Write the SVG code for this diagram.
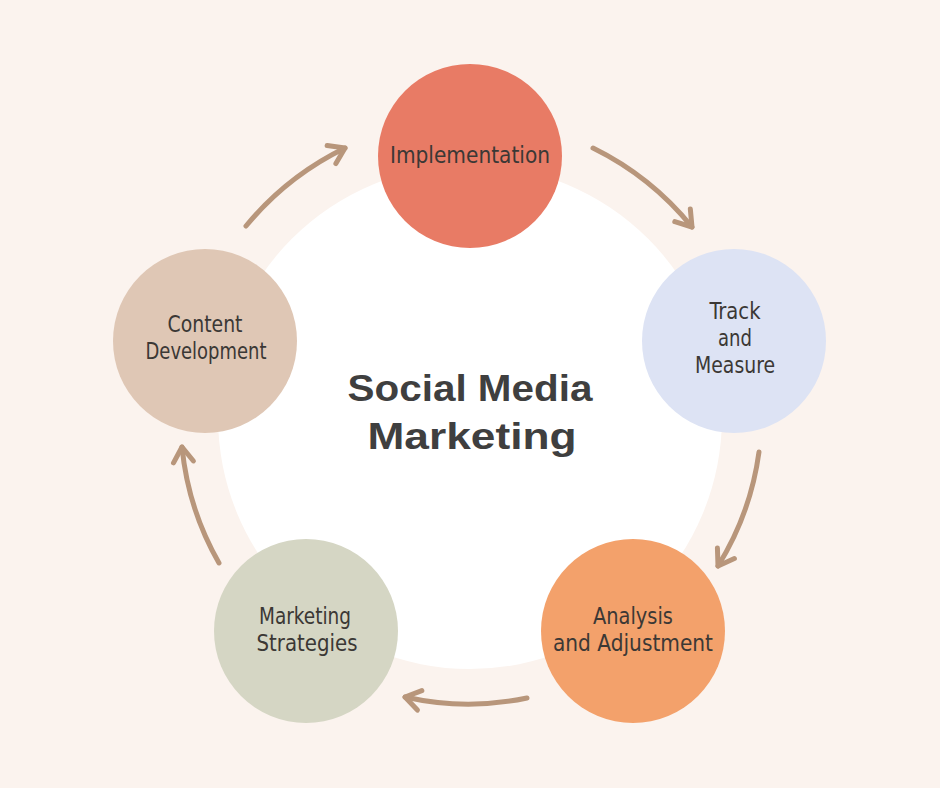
<svg xmlns="http://www.w3.org/2000/svg" width="940" height="788" viewBox="0 0 940 788">
  <style>
    .node-label { font-family: "Liberation Sans Narrow", "DejaVu Sans Condensed", "Liberation Sans", sans-serif; font-size: 23px; fill: #3b3835; text-anchor: middle; }
    .title { font-family: "Liberation Sans", "DejaVu Sans", sans-serif; font-size: 37px; font-weight: bold; fill: #3f3f3f; text-anchor: middle; }
    .conn { fill: none; stroke: #b8967b; stroke-width: 5; stroke-linecap: round; marker-end: url(#head); }
  </style>
  <defs>
    <marker id="head" markerUnits="userSpaceOnUse" markerWidth="40" markerHeight="40" viewBox="-20 -20 40 40" refX="0" refY="0" orient="auto" overflow="visible">
      <path d="M-15,-10 L0,0 L-15,10" fill="none" stroke="#b8967b" stroke-width="5" stroke-linecap="round" stroke-linejoin="round"/>
    </marker>
  </defs>
  <rect x="0" y="0" width="940" height="788" fill="#fbf3ee"/>
  <circle id="center-disc" cx="470" cy="417" r="252" fill="#ffffff"/>
  <g id="title">
    <text class="title" x="470" y="401" textLength="245" lengthAdjust="spacingAndGlyphs">Social Media</text>
    <text class="title" x="472" y="449" textLength="209" lengthAdjust="spacingAndGlyphs">Marketing</text>
  </g>
  <g id="connectors">
    <path class="conn" d="M246,226 A296,296 0 0 1 345,148"/>
    <path class="conn" d="M593,148 A295,295 0 0 1 692,227"/>
    <path class="conn" d="M759,452 A290,290 0 0 1 718,566"/>
    <path class="conn" d="M527,698 A286,286 0 0 1 405,697"/>
    <path class="conn" d="M219,563 A290,290 0 0 1 182,447"/>
  </g>
  <g id="node-implementation">
    <circle cx="470" cy="156" r="92" fill="#e87b65"/>
    <text class="node-label" x="470" y="163" textLength="160" lengthAdjust="spacingAndGlyphs">Implementation</text>
  </g>
  <g id="node-track">
    <circle cx="734" cy="341" r="92" fill="#dde3f4"/>
    <text class="node-label" x="735" y="319" textLength="51" lengthAdjust="spacingAndGlyphs">Track</text>
    <text class="node-label" x="735" y="346" textLength="34" lengthAdjust="spacingAndGlyphs">and</text>
    <text class="node-label" x="735" y="373" textLength="80" lengthAdjust="spacingAndGlyphs">Measure</text>
  </g>
  <g id="node-analysis">
    <circle cx="633" cy="631" r="92" fill="#f3a16b"/>
    <text class="node-label" x="633" y="624" textLength="80" lengthAdjust="spacingAndGlyphs">Analysis</text>
    <text class="node-label" x="633" y="651" textLength="160" lengthAdjust="spacingAndGlyphs">and Adjustment</text>
  </g>
  <g id="node-marketing">
    <circle cx="306" cy="631" r="92" fill="#d5d6c4"/>
    <text class="node-label" x="305" y="624" textLength="92" lengthAdjust="spacingAndGlyphs">Marketing</text>
    <text class="node-label" x="307" y="651" textLength="101" lengthAdjust="spacingAndGlyphs">Strategies</text>
  </g>
  <g id="node-content">
    <circle cx="205" cy="341" r="92" fill="#dfc7b5"/>
    <text class="node-label" x="205" y="332" textLength="75" lengthAdjust="spacingAndGlyphs">Content</text>
    <text class="node-label" x="206" y="359" textLength="121" lengthAdjust="spacingAndGlyphs">Development</text>
  </g>
</svg>
